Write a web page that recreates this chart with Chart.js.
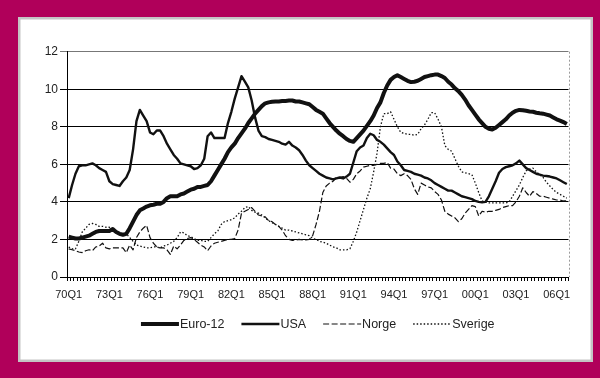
<!DOCTYPE html>
<html>
<head>
<meta charset="utf-8">
<script src="https://cdn.jsdelivr.net/npm/chart.js@4.4.1/dist/chart.umd.min.js"></script>
<style>
  html, body { margin: 0; padding: 0; background: #b0005a; }
  canvas { display: block; }
</style>
</head>
<body>
<canvas id="chart" width="600" height="378"></canvas>
<script>
// Quarterly unemployment rates (%), 1970Q1 - 2006Q4, one row per year
const firstYear = 1970;
const lastYear = 2006;

const euro12 = [
  2.15, 2.10, 2.05, 2.05,   2.10, 2.15, 2.20, 2.30,   2.40, 2.45, 2.45, 2.45,
  2.45, 2.55, 2.40, 2.30,   2.25, 2.30, 2.60, 2.95,   3.30, 3.55, 3.65, 3.75,
  3.82, 3.85, 3.90, 3.90,   4.00, 4.20, 4.30, 4.30,   4.30, 4.40, 4.45, 4.55,
  4.65, 4.70, 4.80, 4.80,   4.85, 4.90, 5.10, 5.40,   5.70, 6.00, 6.30, 6.65,
  6.90, 7.10, 7.40, 7.65,   7.90, 8.20, 8.45, 8.70,   8.90, 9.10, 9.25, 9.30,
  9.33, 9.35, 9.35, 9.37,   9.38, 9.40, 9.40, 9.35,   9.35, 9.30, 9.25, 9.20,
  9.05, 8.90, 8.80, 8.70,   8.45, 8.20, 8.00, 7.80,   7.63, 7.50, 7.35, 7.25,
  7.20, 7.40, 7.60, 7.80,   8.05, 8.30, 8.60, 9.00,   9.30, 9.80, 10.20, 10.50,
  10.65, 10.75, 10.65, 10.55, 10.45, 10.38, 10.40, 10.45, 10.55, 10.65, 10.70, 10.75,
  10.78, 10.78, 10.70, 10.60, 10.40, 10.25, 10.05, 9.90, 9.70, 9.45, 9.15, 8.90,
  8.65, 8.40, 8.20, 8.00,   7.90, 7.86, 7.95, 8.10,   8.25, 8.40, 8.60, 8.75,
  8.85, 8.90, 8.88, 8.85,   8.82, 8.80, 8.75, 8.72,   8.70, 8.65, 8.60, 8.50,
  8.40, 8.33, 8.25, 8.15
];

const usa = [
  4.20, 4.90, 5.50, 5.90,   5.95, 5.95, 6.00, 6.05,   5.95, 5.80, 5.70, 5.60,
  5.10, 4.95, 4.90, 4.85,   5.10, 5.30, 5.70, 6.80,   8.30, 8.90, 8.60, 8.30,
  7.70, 7.60, 7.80, 7.80,   7.50, 7.10, 6.80, 6.50,   6.30, 6.05, 6.00, 5.95,
  5.90, 5.75, 5.80, 5.95,   6.30, 7.50, 7.70, 7.40,   7.40, 7.40, 7.40, 8.20,
  8.80, 9.50, 10.10, 10.70, 10.40, 10.10, 9.40, 8.50, 7.80, 7.50, 7.45, 7.35,
  7.30, 7.25, 7.20, 7.10,   7.05, 7.20, 7.00, 6.90,   6.75, 6.50, 6.20, 5.95,
  5.80, 5.65, 5.50, 5.40,   5.30, 5.25, 5.20, 5.25,   5.30, 5.25, 5.35, 5.50,
  6.10, 6.70, 6.90, 7.00,   7.40, 7.63, 7.55, 7.30,   7.20, 7.05, 6.85, 6.65,
  6.50, 6.15, 5.95, 5.70,   5.65, 5.60, 5.50, 5.45,   5.40, 5.30, 5.25, 5.15,
  5.00, 4.90, 4.80, 4.70,   4.60, 4.60, 4.50, 4.40,   4.30, 4.25, 4.20, 4.15,
  4.05, 4.00, 3.98, 4.00,   4.30, 4.70, 5.10, 5.55,   5.75, 5.85, 5.90, 5.95,
  6.05, 6.20, 6.00, 5.80,   5.70, 5.60, 5.50, 5.45,   5.40, 5.38, 5.35, 5.30,
  5.25, 5.15, 5.05, 4.95
];

const norge = [
  1.50, 1.45, 1.40, 1.33,   1.30, 1.40, 1.45, 1.40,   1.60, 1.65, 1.80, 1.55,
  1.50, 1.55, 1.55, 1.55,   1.55, 1.30, 1.70, 1.45,   2.10, 2.40, 2.60, 2.75,
  2.10, 1.80, 1.60, 1.55,   1.55, 1.45, 1.20, 1.65,   1.50, 1.70, 1.95, 2.05,
  2.10, 2.00, 1.85, 1.70,   1.60, 1.40, 1.65, 1.80,   1.85, 1.90, 1.95, 2.00,
  2.00, 2.05, 2.50, 3.40,   3.50, 3.60, 3.70, 3.50,   3.30, 3.25, 3.20, 3.00,
  2.95, 2.80, 2.70, 2.50,   2.20, 2.00, 1.95, 1.97,   2.00, 1.97, 1.97, 2.00,
  2.20, 2.80, 3.50, 4.50,   4.85, 5.00, 5.10, 5.30,   5.30, 5.35, 5.25, 5.05,
  5.20, 5.50, 5.65, 5.85,   5.90, 5.95, 5.95, 6.00,   6.05, 6.05, 6.10, 5.80,
  5.75, 5.50, 5.40, 5.50,   5.40, 5.20, 4.70, 4.40,   5.00, 4.90, 4.80, 4.75,
  4.55, 4.40, 4.10, 3.50,   3.35, 3.25, 3.15, 2.95,   3.10, 3.40, 3.60, 3.80,
  3.75, 3.25, 3.50, 3.45,   3.50, 3.50, 3.55, 3.60,   3.70, 3.75, 3.80, 3.80,
  4.00, 4.30, 4.75, 4.50,   4.30, 4.55, 4.45, 4.30,   4.30, 4.25, 4.20, 4.15,
  4.10, 4.10, 4.05, 4.05
];

const sverige = [
  1.60, 1.50, 1.50, 1.90,   2.40, 2.60, 2.80, 2.85,   2.80, 2.70, 2.70, 2.65,
  2.65, 2.55, 2.45, 2.35,   2.30, 2.30, 2.10, 1.90,   1.70, 1.65, 1.60, 1.55,
  1.55, 1.60, 1.60, 1.55,   1.65, 1.70, 1.80, 1.90,   2.10, 2.40, 2.35, 2.20,
  2.15, 2.05, 1.95, 1.95,   1.90, 1.90, 2.10, 2.30,   2.45, 2.80, 2.95, 3.00,
  3.05, 3.15, 3.35, 3.50,   3.70, 3.75, 3.55, 3.45,   3.40, 3.30, 3.15, 3.00,
  2.90, 2.80, 2.70, 2.60,   2.50, 2.50, 2.45, 2.40,   2.35, 2.30, 2.25, 2.20,
  2.05, 2.00, 1.90, 1.85,   1.80, 1.70, 1.60, 1.55,   1.45, 1.45, 1.45, 1.50,
  1.90, 2.40, 3.00, 3.60,   4.20, 4.70, 5.60, 6.60,   8.00, 8.70, 8.70, 8.80,
  8.40, 8.00, 7.70, 7.65,   7.60, 7.60, 7.55, 7.60,   7.90, 8.10, 8.40, 8.75,
  8.75, 8.40, 8.00, 7.00,   6.80, 6.70, 6.30, 5.90,   5.60, 5.55, 5.50, 5.45,
  5.00, 4.50, 4.05, 3.98,   3.95, 3.95, 3.95, 3.95,   3.95, 3.95, 4.00, 4.30,
  4.60, 4.90, 5.30, 5.65,   5.75, 5.80, 5.60, 5.45,   5.30, 5.05, 4.85, 4.65,
  4.50, 4.40, 4.30, 4.20
];

// Axis labels shown every third year
const tickLabels = ['70Q1', '73Q1', '76Q1', '79Q1', '82Q1', '85Q1', '88Q1',
                    '91Q1', '94Q1', '97Q1', '00Q1', '03Q1', '06Q1'];
const yTicks = [0, 2, 4, 6, 8, 10, 12];

// Quarter categories, e.g. "70Q1"
const quarters = [];
for (let y = firstYear; y <= lastYear; y++) {
  for (let q = 1; q <= 4; q++) {
    quarters.push(String(y % 100).padStart(2, '0') + 'Q' + q);
  }
}

const FONT = "'Liberation Sans', Arial, sans-serif";
const INK = '#111';

// Magenta frame with a grey-edged white panel behind the chart
const framePlugin = {
  id: 'frame',
  beforeDraw(chart) {
    const ctx = chart.ctx;
    ctx.save();
    ctx.fillStyle = '#b0005a';
    ctx.fillRect(0, 0, chart.width, chart.height);
    ctx.fillStyle = '#c4c4c4';
    ctx.fillRect(18, 17, 575, 345);
    ctx.fillStyle = '#ffffff';
    ctx.fillRect(20.5, 19.5, 570, 340);
    ctx.restore();
  },
  beforeDatasetsDraw(chart) {
    // dashed right edge of the plot area
    const {ctx, chartArea} = chart;
    ctx.save();
    ctx.strokeStyle = '#9a9a9a';
    ctx.lineWidth = 1;
    ctx.setLineDash([2, 2]);
    ctx.beginPath();
    ctx.moveTo(Math.round(chartArea.right) + 0.5, chartArea.top);
    ctx.lineTo(Math.round(chartArea.right) + 0.5, chartArea.bottom);
    ctx.stroke();
    ctx.restore();
  }
};

// Legend drawn as line samples (solid, thick, dashed, dotted) followed by the label
const lineLegendPlugin = {
  id: 'lineLegend',
  afterDraw(chart) {
    const {ctx, chartArea} = chart;
    const sample = 38;
    const gap = 17;
    const y = 324;
    ctx.save();
    ctx.font = '12.5px ' + FONT;
    const items = chart.data.datasets.map(ds => ({
      ds, tw: ctx.measureText(ds.label).width
    }));
    const total = items.reduce((s, it) => s + sample + 1 + it.tw, 0) + gap * (items.length - 1);
    let x = (chartArea.left + chartArea.right) / 2 - total / 2;
    items.forEach(({ds, tw}) => {
      ctx.strokeStyle = ds.borderColor;
      ctx.lineWidth = ds.borderWidth;
      ctx.setLineDash(ds.borderDash || []);
      ctx.beginPath();
      ctx.moveTo(x, y);
      ctx.lineTo(x + sample, y);
      ctx.stroke();
      ctx.setLineDash([]);
      ctx.fillStyle = '#222';
      ctx.textBaseline = 'middle';
      ctx.textAlign = 'left';
      ctx.fillText(ds.label, x + sample + 1, y + 0.5);
      x += sample + 1 + tw + gap;
    });
    ctx.restore();
  }
};

const lineStyle = (label, data, width, dash) => ({
  label, data,
  borderColor: INK,
  backgroundColor: INK,
  borderWidth: width,
  borderDash: dash,
  pointRadius: 0,
  pointHoverRadius: 0,
  tension: 0,
  fill: false,
  borderJoinStyle: 'round',
  borderCapStyle: 'butt'
});

new Chart(document.getElementById('chart'), {
  type: 'line',
  data: {
    labels: quarters,
    datasets: [
      lineStyle('Euro-12', euro12, 4, []),
      lineStyle('USA', usa, 2.4, []),
      lineStyle('Norge', norge, 1.2, [6, 2.5]),
      lineStyle('Sverige', sverige, 1.3, [1.5, 2])
    ]
  },
  options: {
    responsive: false,
    animation: false,
    devicePixelRatio: 1,
    layout: { padding: { left: 20, right: 31.5, top: 51.7, bottom: 71 } },
    plugins: {
      legend: { display: false },
      tooltip: { enabled: false }
    },
    scales: {
      x: {
        type: 'category',
        offset: true,
        grid: {
          offset: true,
          drawOnChartArea: false,
          tickLength: 4,
          color: '#000',
          lineWidth: 1
        },
        border: { display: true, color: '#000', width: 1 },
        ticks: {
          autoSkip: false,
          maxRotation: 0,
          minRotation: 0,
          padding: 7,
          color: '#222',
          font: { family: FONT, size: 11 },
          callback(value, index) {
            const lbl = quarters[index];
            return tickLabels.includes(lbl) ? lbl : '';
          }
        },
        afterFit(scale) { scale.height = 30; }
      },
      y: {
        min: 0,
        max: 12,
        afterBuildTicks(scale) { scale.ticks = yTicks.map(v => ({ value: v })); },
        grid: {
          color: ctx => (ctx.tick && ctx.tick.value === 12) ? '#777' : '#000',
          lineWidth: 1,
          tickLength: 7
        },
        border: { display: true, color: '#000', width: 1 },
        ticks: {
          padding: 2,
          color: '#222',
          font: { family: FONT, size: 12 }
        },
        afterFit(scale) { scale.width = 47; }
      }
    }
  },
  plugins: [framePlugin, lineLegendPlugin]
});
</script>
</body>
</html>
